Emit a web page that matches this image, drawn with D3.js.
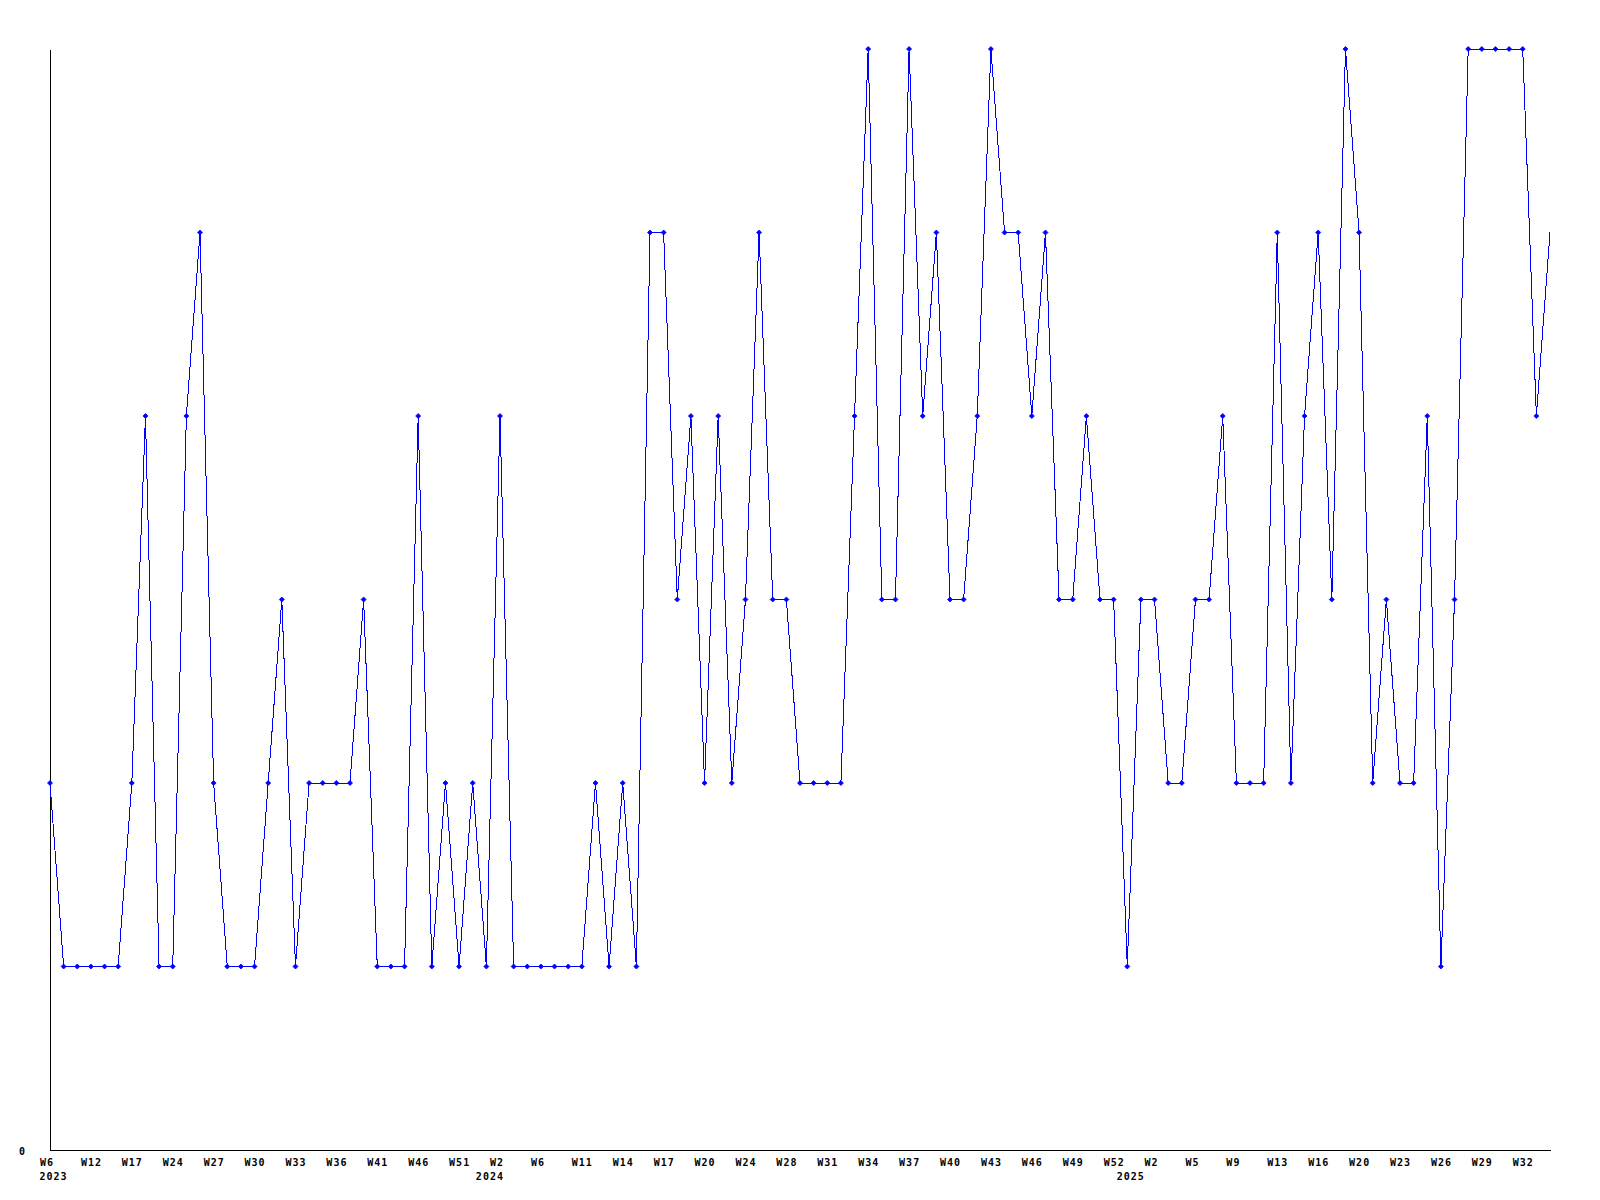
<!DOCTYPE html>
<html>
<head>
<meta charset="utf-8">
<script src="https://cdn.jsdelivr.net/npm/d3@7"></script>
<style>
  html, body { margin: 0; padding: 0; background: #fff; }
  svg { display: block; }
  text { font-family: "DejaVu Sans Mono", monospace; font-weight: bold; font-size: 10px; fill: #000; letter-spacing: 1px; }
</style>
</head>
<body>
<svg id="chart" width="1600" height="1200"></svg>
<script>
// Weekly values, one per data point (left to right)
const values = [
  2,1,1,1,1,1,2,4,1,1,
  4,5,2,1,1,1,2,3,1,2,
  2,2,2,3,1,1,1,4,1,2,
  1,2,1,4,1,1,1,1,1,1,
  2,1,2,1,5,5,3,4,2,4,
  2,3,5,3,3,2,2,2,2,4,
  6,3,3,6,4,5,3,3,4,6,
  5,5,4,5,3,3,4,3,3,1,
  3,3,2,2,3,3,4,2,2,2,
  5,2,4,5,3,6,5,2,3,2,
  2,4,1,3,6,6,6,6,6,4,5
];
// Tick labels, one for every third data point
const tickLabels = ["W6","W12","W17","W24","W27","W30","W33","W36","W41","W46","W51",
  "W2","W6","W11","W14","W17","W20","W24","W28","W31","W34","W37","W40","W43","W46","W49","W52",
  "W2","W5","W9","W13","W16","W20","W23","W26","W29","W32"];
const tickStep = 3;
// Year labels with the data point index they start at
const yearLabels = ["2023","2024","2025"];
const yearIndex = [0, 32, 79];
const yTicks = [0];
const yMax = 6;

const svg = d3.select("#chart");
const x = d3.scaleLinear().domain([0, values.length - 1]).range([50, 1550]);
const y = d3.scaleLinear().domain([0, yMax]).range([1150, 49]);

// X axis
const xAxis = d3.axisBottom(x)
  .tickValues(tickLabels.map((_, i) => i * tickStep))
  .tickFormat((d) => tickLabels[d / tickStep])
  .tickSize(0).tickSizeOuter(0).tickPadding(0);
const gx = svg.append("g").attr("transform", "translate(0,1150)").call(xAxis);
gx.select(".domain").attr("stroke", "#000").attr("shape-rendering", "crispEdges");
gx.selectAll(".tick text")
  .attr("text-anchor", "start").attr("dx", -10.5).attr("dy", 0).attr("y", 16)
  .style("font-family", null).style("font-size", null).attr("font-family", null).attr("font-size", null);
gx.attr("font-family", null).attr("font-size", null);

// Year labels
svg.append("g").selectAll("text").data(yearLabels).join("text")
  .attr("x", (d, i) => x(yearIndex[i]) - 10.5)
  .attr("y", 1180)
  .text((d) => d);

// Y axis
const yAxis = d3.axisLeft(y).tickValues(yTicks).tickFormat(d3.format("d"))
  .tickSize(0).tickSizeOuter(0).tickPadding(24);
const gy = svg.append("g").attr("transform", "translate(50,0)").call(yAxis);
gy.select(".domain").attr("stroke", "#000").attr("shape-rendering", "crispEdges");
gy.attr("font-family", null).attr("font-size", null);
gy.selectAll(".tick text").attr("dy", "0.4em");

// Line
const line = d3.line().x((d, i) => x(i)).y((d) => y(d));
svg.append("path").datum(values)
  .attr("d", line)
  .attr("fill", "none").attr("stroke", "#0000ff").attr("stroke-width", 1)
  .attr("shape-rendering", "crispEdges");

// Markers (last point has none in the reference)
const diamond = "M0,-2.5L2.5,0L0,2.5L-2.5,0Z";
svg.append("g").selectAll("path").data(values.slice(0, values.length - 1)).join("path")
  .attr("d", diamond)
  .attr("transform", (d, i) => `translate(${x(i)},${y(d)})`)
  .attr("fill", "#0000ff").attr("stroke", "#0000ff").attr("stroke-width", 0.8);
</script>
</body>
</html>
